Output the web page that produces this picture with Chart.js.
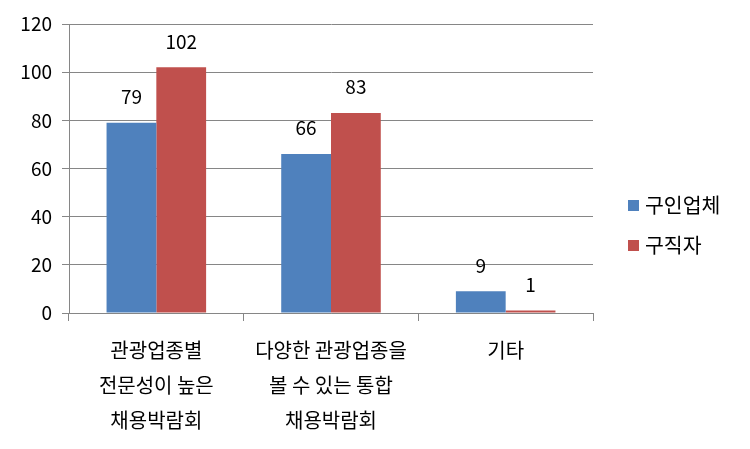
<!DOCTYPE html>
<html>
<head>
<meta charset="utf-8">
<script src="https://cdn.jsdelivr.net/npm/chart.js@4"></script>
<style>
  html, body { margin: 0; padding: 0; background: #fff; }
  #wrap { width: 750px; height: 449px; }
</style>
</head>
<body>
<div id="wrap"><canvas id="myChart" width="750" height="449"></canvas></div>
<script>
// Data
const categories = [
  ['관광업종별', '전문성이 높은', '채용박람회'],
  ['다양한 관광업종을', '볼 수 있는 통합', '채용박람회'],
  ['기타']
];
const seriesNames = ['구인업체', '구직자'];
const companies = [79, 66, 9];   // 구인업체
const seekers = [102, 83, 1];    // 구직자
const yTicks = [0, 20, 40, 60, 80, 100, 120];

const fontFamily = "'Noto Sans CJK KR', 'Noto Sans', sans-serif";
const gridColor = '#868686';

// value labels above each bar
const valueLabels = {
  id: 'valueLabels',
  afterDatasetsDraw(chart) {
    const ctx = chart.ctx;
    ctx.save();
    ctx.font = '19px ' + fontFamily;
    ctx.fillStyle = '#000';
    ctx.textAlign = 'center';
    ctx.textBaseline = 'middle';
    chart.data.datasets.forEach((ds, i) => {
      chart.getDatasetMeta(i).data.forEach((bar, j) => {
        ctx.fillText(ds.data[j], bar.x, bar.y - 26);
      });
    });
    ctx.restore();
  }
};

// legend on the right side
const sideLegend = {
  id: 'sideLegend',
  afterDraw(chart) {
    const ctx = chart.ctx;
    ctx.save();
    ctx.font = '20.5px ' + fontFamily;
    ctx.textBaseline = 'middle';
    ctx.textAlign = 'left';
    chart.data.datasets.forEach((ds, i) => {
      const y = 205 + i * 40;
      ctx.fillStyle = ds.backgroundColor;
      ctx.fillRect(628, y - 5, 11, 11);
      ctx.fillStyle = '#000';
      ctx.fillText(ds.label, 645, y);
    });
    ctx.restore();
  }
};

const ctx = document.getElementById('myChart').getContext('2d');
const chart = new Chart(ctx, {
  type: 'bar',
  data: {
    labels: categories,
    datasets: [
      { label: seriesNames[0], data: companies, backgroundColor: '#4F81BD' },
      { label: seriesNames[1], data: seekers, backgroundColor: '#C0504D' }
    ]
  },
  options: {
    responsive: false,
    animation: false,
    layout: { padding: { top: 24, right: 157, left: 0, bottom: 0 } },
    datasets: {
      bar: { barPercentage: 1, categoryPercentage: 0.57 }
    },
    scales: {
      y: {
        min: 0,
        max: 120,
        afterBuildTicks(axis) {
          axis.ticks = yTicks.map(v => ({ value: v }));
        },
        afterFit(axis) { axis.width = 69; },
        ticks: { color: '#000', font: { size: 19, family: fontFamily }, padding: 10 },
        grid: { color: gridColor, tickLength: 7, drawTicks: true },
        border: { color: gridColor }
      },
      x: {
        afterFit(axis) { axis.height = 136; },
        ticks: { color: '#000', font: { size: 20, family: fontFamily, lineHeight: 1.75 }, padding: 12, maxRotation: 0 },
        grid: { offset: true, drawOnChartArea: false, color: gridColor, tickLength: 8 },
        border: { color: gridColor }
      }
    },
    plugins: {
      legend: { display: false },
      tooltip: { enabled: false }
    }
  },
  plugins: [valueLabels, sideLegend]
});
</script>
</body>
</html>
